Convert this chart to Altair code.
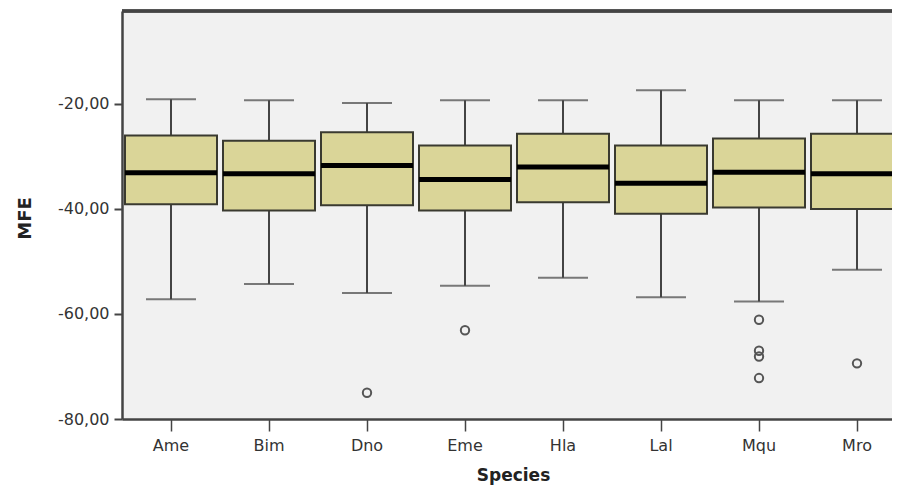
import altair as alt
import pandas as pd

species = ["Ame", "Bim", "Dno", "Eme", "Hla", "Lal", "Mqu", "Mro"]
whisk_low = [-57.2, -54.3, -56.0, -54.6, -53.1, -56.8, -57.6, -51.6]
q1 = [-39.1, -40.3, -39.3, -40.3, -38.7, -40.9, -39.7, -40.0]
median = [-33.1, -33.3, -31.7, -34.4, -32.0, -35.1, -33.0, -33.3]
q3 = [-26.0, -27.0, -25.4, -27.9, -25.7, -27.9, -26.6, -25.7]
whisk_high = [-19.1, -19.3, -19.8, -19.3, -19.3, -17.4, -19.3, -19.3]
outlier_species = ["Dno", "Eme", "Mqu", "Mqu", "Mqu", "Mqu", "Mro"]
outlier_values = [-75.0, -63.1, -61.1, -67.0, -68.1, -72.2, -69.4]
y_ticks = [-20, -40, -60, -80]

stats = pd.DataFrame({"Species": species, "lo": whisk_low, "q1": q1,
                      "med": median, "q3": q3, "hi": whisk_high})
outl = pd.DataFrame({"Species": outlier_species, "MFE": outlier_values})

W, H = 770, 408
font = "DejaVu Sans"
xscale = alt.Scale(domain=species, range=[0, 784], paddingInner=0, paddingOuter=0)
yscale = alt.Scale(domain=[-80, -2.3], nice=False, zero=False)

x_axis = alt.Axis(title="Species", labelAngle=0, labelFont=font, labelFontSize=16,
                  labelColor="#333", labelPadding=6, tickSize=12, tickWidth=1.5,
                  tickColor="#444", domainColor="#444", domainWidth=2.5,
                  titleFont=font, titleFontSize=17, titleFontWeight="bold",
                  titleColor="#222", titleX=391, titleY=56, titleBaseline="middle",
                  titleAlign="center")
y_axis = alt.Axis(title="MFE", values=y_ticks,
                  labelExpr="replace(replace(format(datum.value, '.2f'), '.', ','), '\u2212', '-')",
                  labelFont=font, labelFontSize=16, labelColor="#333",
                  labelPadding=5, tickSize=8, tickWidth=2, tickColor="#444",
                  domainColor="#444", domainWidth=2.5, grid=False,
                  titleFont=font, titleFontSize=18, titleFontWeight="bold",
                  titleColor="#222", titleX=-97, titleY=207, titleBaseline="middle",
                  titleAlign="center", titleAngle=270)

base = alt.Chart(stats)
x_enc = alt.X("Species:N", scale=xscale, axis=x_axis, sort=species)

whisker = base.mark_rule(color="#444", strokeWidth=2).encode(
    x=x_enc,
    y=alt.Y("lo:Q", scale=yscale, axis=y_axis),
    y2="hi:Q")
caps_hi = base.mark_tick(color="#444", size=50, thickness=2, orient="horizontal").encode(
    x=alt.X("Species:N", scale=xscale, sort=species),
    y=alt.Y("hi:Q", scale=yscale))
caps_lo = base.mark_tick(color="#444", size=50, thickness=2, orient="horizontal").encode(
    x=alt.X("Species:N", scale=xscale, sort=species),
    y=alt.Y("lo:Q", scale=yscale))
box = base.mark_bar(size=92, fill="#DAD598", stroke="#3a3a30", strokeWidth=2).encode(
    x=alt.X("Species:N", scale=xscale, sort=species),
    y=alt.Y("q1:Q", scale=yscale),
    y2="q3:Q")
med = base.mark_tick(color="#000", size=92, thickness=5, orient="horizontal", opacity=1).encode(
    x=alt.X("Species:N", scale=xscale, sort=species),
    y=alt.Y("med:Q", scale=yscale))
pts = alt.Chart(outl).mark_point(shape="circle", filled=False, color="#555",
                                 size=70, strokeWidth=2, opacity=1).encode(
    x=alt.X("Species:N", scale=xscale, sort=species),
    y=alt.Y("MFE:Q", scale=yscale))
top = alt.Chart(stats).mark_rule(color="#444", strokeWidth=2.5).encode(
    x=alt.value(0), x2=alt.value(800), y=alt.value(0))

chart = alt.layer(whisker, box, med, caps_hi, caps_lo, pts, top).properties(
    width=W, height=H,
    autosize=alt.AutoSizeParams(type="none"),
    padding={"left": 114, "top": 3, "right": 0, "bottom": 68},
    background="white",
).configure_view(fill="#F1F1F1", stroke=None)

chart.save("out.html", embed_options={"renderer": "svg", "actions": False})
